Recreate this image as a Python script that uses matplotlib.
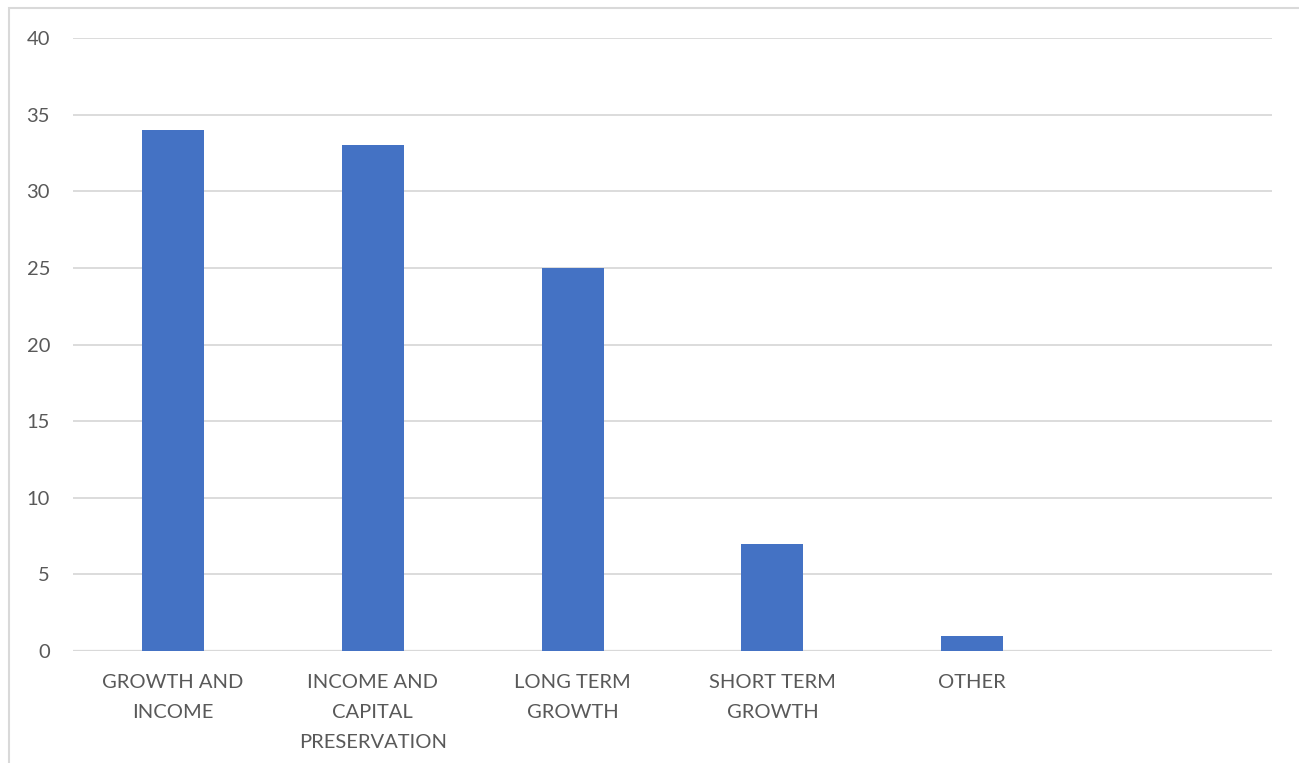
import matplotlib
matplotlib.use("Agg")
import matplotlib.pyplot as plt
from matplotlib.patches import Rectangle

categories = ["GROWTH AND\nINCOME", "INCOME AND\nCAPITAL\nPRESERVATION",
              "LONG TERM\nGROWTH", "SHORT TERM\nGROWTH", "OTHER", ""]
values = [34, 33, 25, 7, 1, 0]
yticks = [0, 5, 10, 15, 20, 25, 30, 35, 40]

bar_color = "#4472C4"
text_color = "#595959"
grid_color = "#D9D9D9"

plt.rcParams["font.family"] = ["Lato", "DejaVu Sans"]

fig = plt.figure(figsize=(12.99, 7.63), dpi=100)
ax = fig.add_axes([73 / 1299, 1 - 651 / 763, (1272 - 73) / 1299, (651 - 38) / 763])

x = list(range(len(categories)))
ax.bar(x[:5], values[:5], width=0.31, color=bar_color, zorder=3)

ax.set_xlim(-0.5, len(categories) - 0.5)
ax.set_ylim(0, 40)
ax.set_yticks(yticks)
ax.set_xticks(x)
ax.set_xticklabels(categories, linespacing=1.93)
ax.yaxis.grid(True, color=grid_color, linewidth=1.3, zorder=0)
ax.axhline(0, color=grid_color, linewidth=1.6, zorder=2)
for s in ax.spines.values():
    s.set_visible(False)
ax.tick_params(axis="both", length=0, labelsize=14.5, colors=text_color)
ax.tick_params(axis="x", pad=16.5)
ax.tick_params(axis="y", pad=16.5)

# chart area outline
fig.patches.append(Rectangle((8.5 / 1299, -0.1), 1.2, 1 - 8.5 / 763 + 0.1,
                             transform=fig.transFigure, fill=False,
                             edgecolor=grid_color, linewidth=1.5))

fig.savefig("out.png", dpi=100)
